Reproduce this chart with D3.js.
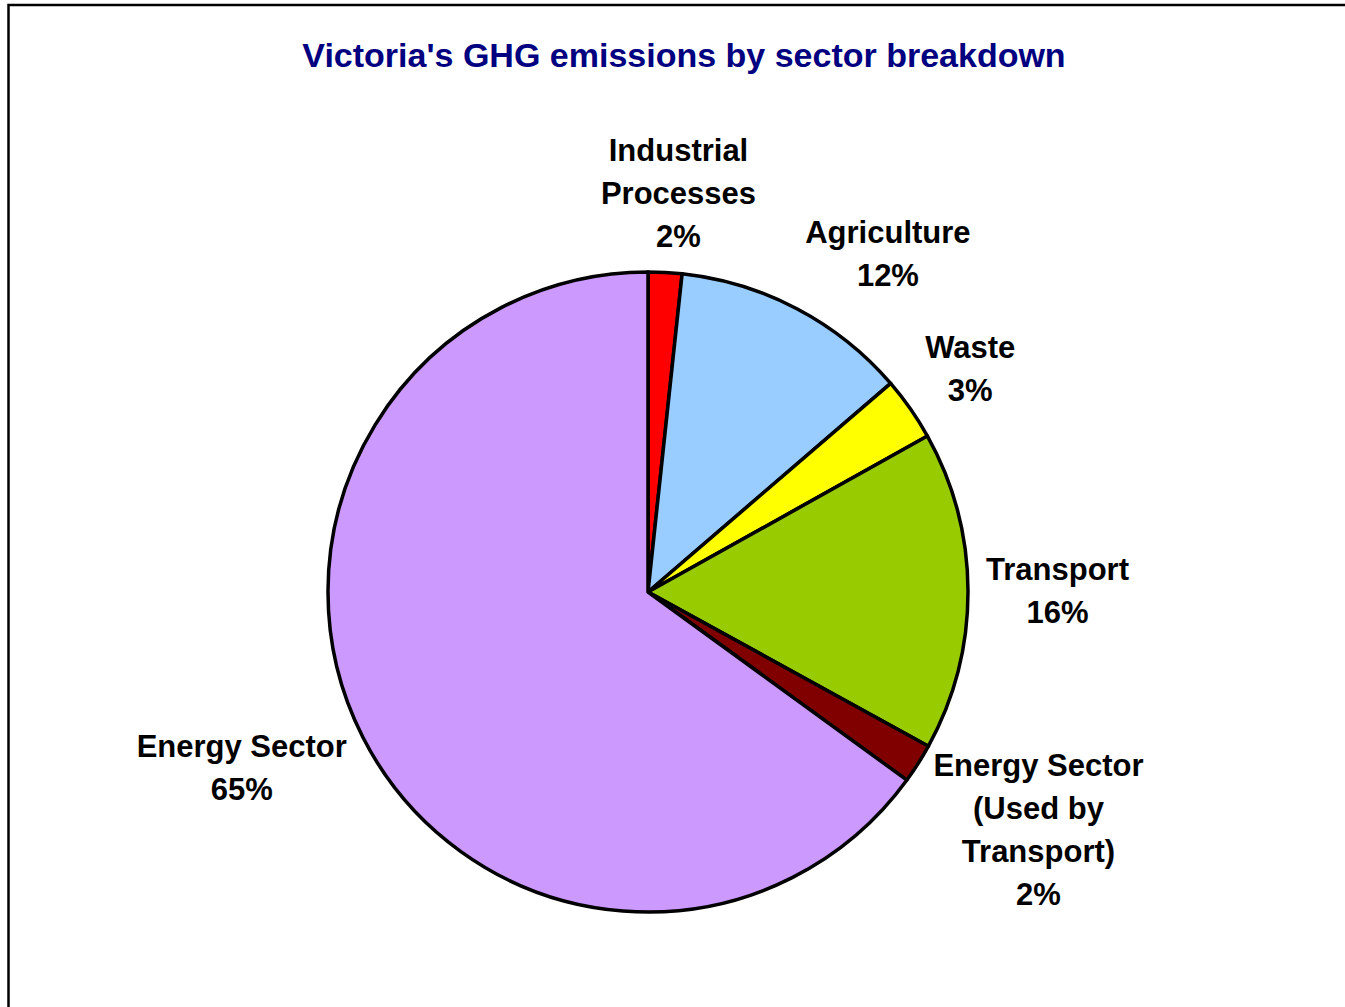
<!doctype html>
<html>
<head>
    <meta charset="utf-8">
    <title>Victoria's GHG emissions by sector breakdown</title>
    <style type="text/css">
        body { margin: 0; background: #fff; }
        svg { display: block; font-family: "Liberation Sans", Arial, sans-serif; font-weight: bold; }
        .frame { fill: none; stroke: #000; stroke-width: 2.5; }
        .title { fill: #000080; font-size: 34px; }
        .slice { stroke: #000; stroke-width: 3.5; stroke-linejoin: round; }
        .label { fill: #000; font-size: 31px; }
    </style>
</head>
<body>
<div id="chart"></div>

<script src="https://d3js.org/d3.v7.min.js"></script>
<script>

    // sectors, clockwise from 12 o'clock
    var sectors = ["Industrial Processes", "Agriculture", "Waste", "Transport",
        "Energy Sector (Used by Transport)", "Energy Sector"];
    // how each sector name breaks over lines in the label
    var labelLines = [["Industrial", "Processes"], ["Agriculture"], ["Waste"], ["Transport"],
        ["Energy Sector", "(Used by", "Transport)"], ["Energy Sector"]];
    // share of emissions, %
    var shares = [1.7, 12.0, 3.2, 16.1, 2.0, 65.0];
    var colors = ["#ff0000", "#99ccff", "#ffff00", "#99cc00", "#800000", "#cc99ff"];

    var width = 1345, height = 1007;
    var cx = 648, cy = 592, radius = 320;
    var lineH = 43;

    var svg = d3.select("#chart").append("svg")
        .attr("width", width)
        .attr("height", height);

    // chart frame (runs off the right and bottom edges)
    svg.append("rect")
        .attr("class", "frame")
        .attr("x", 8.5)
        .attr("y", 5)
        .attr("width", width + 40)
        .attr("height", height + 40);

    svg.append("text")
        .attr("class", "title")
        .attr("x", 684)
        .attr("y", 67)
        .attr("text-anchor", "middle")
        .text("Victoria's GHG emissions by sector breakdown");

    var data = sectors.map(function (s, i) {
        return { name: s, lines: labelLines[i], value: shares[i], color: colors[i] };
    });
    var total = d3.sum(shares);
    var pct = d3.format(".0%");

    var pie = d3.pie()
        .sort(null)
        .value(function (d) { return d.value; });

    var arc = d3.arc()
        .innerRadius(0)
        .outerRadius(radius);

    var arcs = pie(data);

    var g = svg.append("g")
        .attr("transform", "translate(" + cx + "," + cy + ")");

    g.selectAll(".slice")
        .data(arcs)
        .enter().append("path")
        .attr("class", "slice")
        .attr("fill", function (d) { return d.data.color; })
        .attr("d", arc);

    // labels sit just outside the rim, pushed out by their own box
    var gap = 18;
    var clamp = function (v) { return Math.max(-1, Math.min(1, v)); };

    var labels = g.selectAll(".label")
        .data(arcs)
        .enter().append("g")
        .attr("class", "label");

    labels.each(function (d) {
        var lab = d3.select(this);
        var txt = lab.append("text").attr("text-anchor", "middle");
        var lines = d.data.lines.concat([pct(d.data.value / total)]);
        lines.forEach(function (l, i) {
            txt.append("tspan").attr("x", 0).attr("y", i * lineH).text(l);
        });
        var bb = txt.node().getBBox();
        var a = (d.startAngle + d.endAngle) / 2;
        var s = Math.sin(a), c = Math.cos(a);
        var px = (radius + gap) * s, py = -(radius + gap) * c;
        var mx = px + bb.width / 2 * clamp(3 * s);
        var my = py - bb.height / 2 * clamp(1.3 * c);
        // centre the text block on (mx, my)
        var ox = mx - (bb.x + bb.width / 2);
        var oy = my - (bb.y + bb.height / 2);
        lab.attr("transform", "translate(" + ox + "," + oy + ")");
    });

</script>
</body>
</html>
